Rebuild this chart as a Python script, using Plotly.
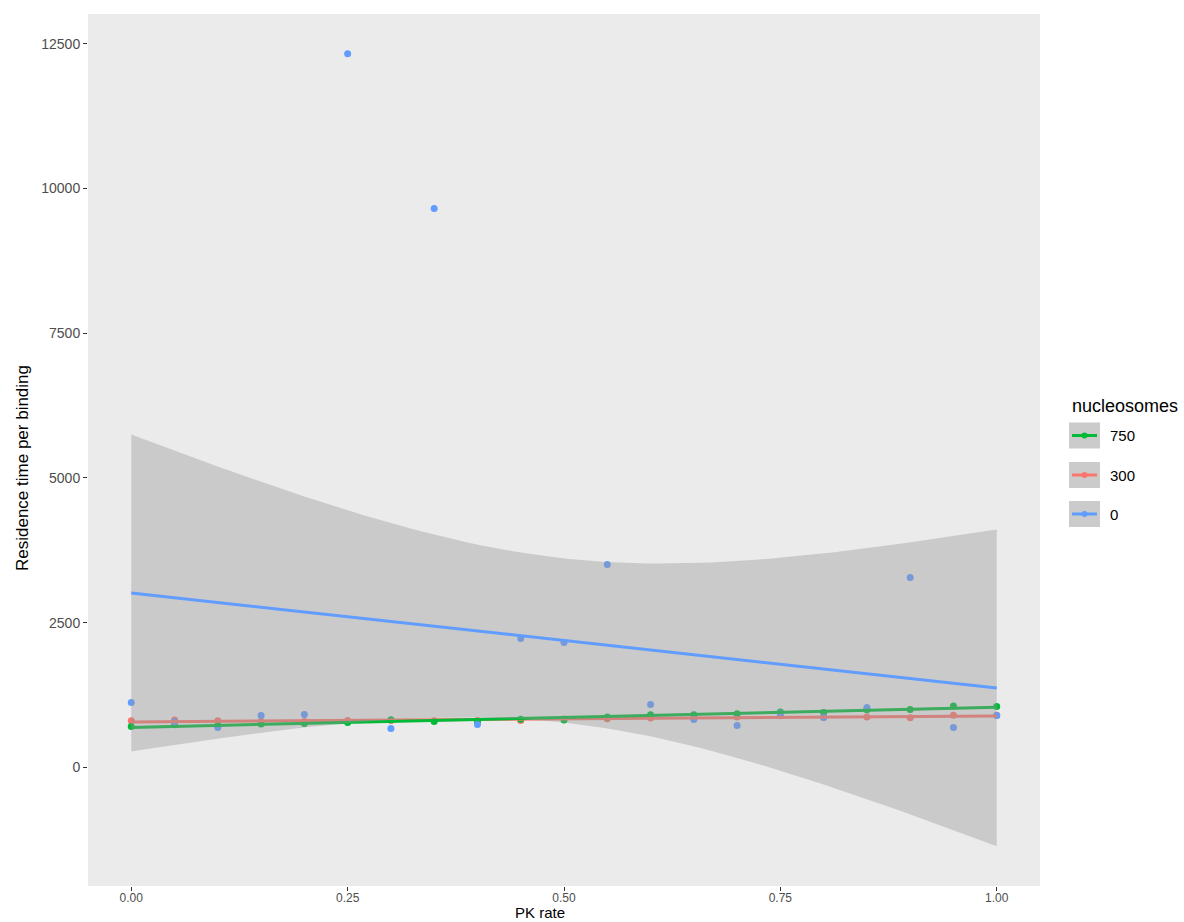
import numpy as np
import plotly.graph_objects as go

# ---------------- data ----------------
pk_rate = [0.00, 0.05, 0.10, 0.15, 0.20, 0.25, 0.30, 0.35, 0.40, 0.45, 0.50,
           0.55, 0.60, 0.65, 0.70, 0.75, 0.80, 0.85, 0.90, 0.95, 1.00]
res_0 = [1122, 790, 690, 898, 915, 12327, 673, 9651, 742, 2227, 2158,
         3505, 1088, 829, 725, 930, 863, 1036, 3280, 690, 898]
res_300 = [806, 817, 806, 794, 794, 811, 811, 805, 810, 811, 835,
           840, 852, 852, 869, 892, 863, 869, 858, 903, 903]
res_750 = [708, 737, 725, 748, 760, 777, 823, 794, 794, 834, 817,
           869, 909, 909, 927, 955, 950, 996, 1001, 1059, 1053]

groups = ["300", "750", "0"]          # drawing order
legend_order = ["750", "300", "0"]    # legend order
series = {"0": res_0, "300": res_300, "750": res_750}
colors = {"300": "#F8766D", "750": "#00BA38", "0": "#619CFF"}

x_ticks = [0.00, 0.25, 0.50, 0.75, 1.00]
x_tick_labels = ["0.00", "0.25", "0.50", "0.75", "1.00"]
y_ticks = [0, 2500, 5000, 7500, 10000, 12500]
y_tick_labels = ["0", "2500", "5000", "7500", "10000", "12500"]

x_title = "PK rate"
y_title = "Residence time per binding"
legend_title = "nucleosomes"

T975_DF19 = 2.093024


def lm_ci(x, y, xs):
    x = np.asarray(x, float)
    y = np.asarray(y, float)
    n = len(x)
    b1, b0 = np.polyfit(x, y, 1)
    fit = b0 + b1 * xs
    resid = y - (b0 + b1 * x)
    s = np.sqrt(np.sum(resid ** 2) / (n - 2))
    xm = x.mean()
    sxx = np.sum((x - xm) ** 2)
    se = s * np.sqrt(1.0 / n + (xs - xm) ** 2 / sxx)
    return fit, fit - T975_DF19 * se, fit + T975_DF19 * se


xs = np.linspace(min(pk_rate), max(pk_rate), 80)
fig = go.Figure()

# points
for g in groups:
    fig.add_trace(go.Scatter(x=pk_rate, y=series[g], mode="markers",
                             marker=dict(color=colors[g], size=7),
                             showlegend=False, hoverinfo="x+y"))

lo_all, hi_all = [], []
for g in groups:
    fit, lo, hi = lm_ci(pk_rate, series[g], xs)
    lo_all.append(lo.min())
    hi_all.append(hi.max())
    fig.add_trace(go.Scatter(x=np.concatenate([xs, xs[::-1]]),
                             y=np.concatenate([hi, lo[::-1]]),
                             fill="toself", fillcolor="rgba(153,153,153,0.4)",
                             line=dict(width=0), mode="lines",
                             showlegend=False, hoverinfo="skip"))
    fig.add_trace(go.Scatter(x=xs, y=fit, mode="lines",
                             line=dict(color=colors[g], width=3),
                             showlegend=False, hoverinfo="skip"))

all_y = res_0 + res_300 + res_750
ymin = min(min(all_y), min(lo_all))
ymax = max(max(all_y), max(hi_all))
span = ymax - ymin
yrange = [ymin - 0.05 * span, ymax + 0.05 * span]
xspan = max(pk_rate) - min(pk_rate)
xrange = [min(pk_rate) - 0.05 * xspan, max(pk_rate) + 0.05 * xspan]

# ---------------- layout helpers ----------------
L, R, T, B = 88, 144, 14, 36
W, H = 1184, 922
PW, PH = W - L - R, H - T - B


def px(xp):
    return (xp - L) / PW


def py(yp):
    return (H - B - yp) / PH


shapes = []
annotations = []
# axis titles
annotations.append(dict(text=x_title, x=px(540), y=py(922), xref="paper", yref="paper",
                        xanchor="center", yanchor="bottom", showarrow=False, borderpad=0,
                        font=dict(size=15, color="black")))
annotations.append(dict(text=y_title, x=px(22), y=py(468), xref="paper", yref="paper",
                        xanchor="center", yanchor="middle", showarrow=False, textangle=-90,
                        font=dict(size=17, color="black")))
# legend (ggplot style)
annotations.append(dict(text=legend_title, x=px(1070), y=py(406), xref="paper", yref="paper",
                        xanchor="left", yanchor="middle", showarrow=False,
                        font=dict(size=18, color="black")))
key_centers = [435.5, 475, 514]
for g, cy in zip(legend_order, key_centers):
    shapes.append(dict(type="rect", xref="paper", yref="paper",
                       x0=px(1069), x1=px(1100), y0=py(cy - 13), y1=py(cy + 13),
                       fillcolor="#CBCBCB", line=dict(width=0)))
    shapes.append(dict(type="line", xref="paper", yref="paper",
                       x0=px(1072), x1=px(1097), y0=py(cy), y1=py(cy),
                       line=dict(color=colors[g], width=3)))
    shapes.append(dict(type="circle", xref="paper", yref="paper",
                       x0=px(1081.5), x1=px(1087.5), y0=py(cy - 3), y1=py(cy + 3),
                       fillcolor=colors[g], line=dict(width=0)))
    annotations.append(dict(text=g, x=px(1108), y=py(cy), xref="paper", yref="paper",
                            xanchor="left", yanchor="middle", showarrow=False,
                            font=dict(size=15, color="black")))

fig.update_layout(
    width=W, height=H,
    margin=dict(l=L, r=R, t=T, b=B),
    paper_bgcolor="white",
    plot_bgcolor="#EBEBEB",
    font=dict(family="Liberation Sans, Arial, sans-serif"),
    showlegend=False,
    shapes=shapes,
    annotations=annotations,
    xaxis=dict(range=xrange, tickvals=x_ticks, ticktext=x_tick_labels,
               showgrid=False, zeroline=False, showline=False,
               ticks="outside", ticklen=4, tickcolor="#333333", tickwidth=1,
               ticklabelstandoff=-3,
               tickfont=dict(size=12, color="#4D4D4D"),
               automargin=False),
    yaxis=dict(range=yrange, tickvals=y_ticks, ticktext=y_tick_labels,
               showgrid=False, zeroline=False, showline=False,
               ticks="outside", ticklen=4, tickcolor="#333333", tickwidth=1,
               tickfont=dict(size=14, color="#4D4D4D"),
               automargin=False),
)

fig.write_html("out.html")
